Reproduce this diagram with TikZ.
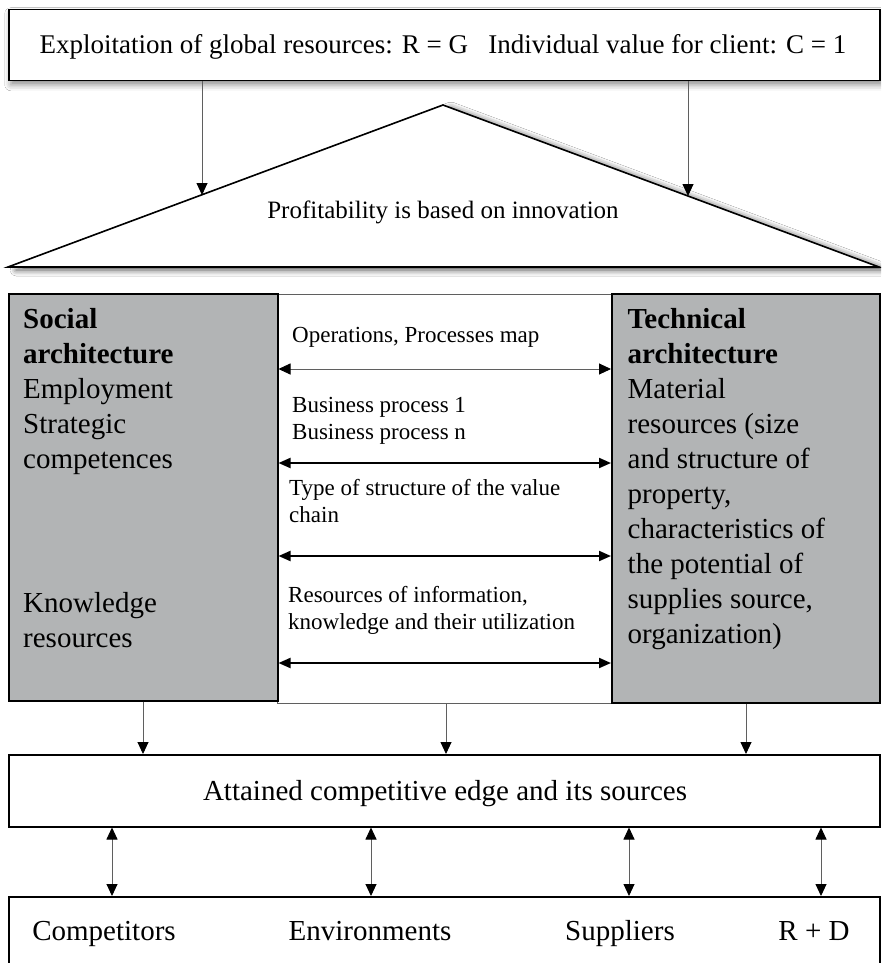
\documentclass[tikz,border=0pt]{standalone}
\usepackage{fontspec}
\setmainfont{Liberation Serif}
\usetikzlibrary{arrows.meta,shadows.blur}
\definecolor{archgray}{RGB}{178,180,181}
\definecolor{linegray}{RGB}{95,95,95}
\begin{document}
\begin{tikzpicture}[x=1pt,y=-1pt,
  box/.style={draw=black, line width=1.5pt, fill=white, inner sep=0pt, anchor=north west},
  graybox/.style={draw=black, line width=1.5pt, fill=archgray, inner sep=0pt, anchor=north west},
  midbox/.style={draw=linegray, line width=1.1pt, fill=white, inner sep=0pt, anchor=north west},
  bigtxt/.style={font=\fontsize{29}{35}\selectfont, align=left, inner sep=0pt},
  midtxt/.style={font=\fontsize{23}{27}\selectfont, align=left, inner sep=0pt},
  thinarrow/.style={draw=linegray, line width=0.9pt, -{Triangle[length=12pt,width=11pt,color=black]}},
  thindbl/.style={draw=linegray, line width=0.9pt, {Triangle[length=12pt,width=11pt,color=black]}-{Triangle[length=12pt,width=11pt,color=black]}},
  thickdbl/.style={draw=black, line width=2pt, {Triangle[length=12pt,width=10pt]}-{Triangle[length=12pt,width=10pt]}},
  softshadow/.style={blur shadow={shadow xshift=2pt, shadow yshift=-4pt, shadow blur radius=6pt, shadow opacity=45}}
]
\clip (0,0) rectangle (881,963);
\fill[white] (0,0) rectangle (881,963);

% top box
\node[box, softshadow, minimum width=871pt, minimum height=71pt] (top) at (8,9) {};
\node[font=\fontsize{27}{32}\selectfont, anchor=base, inner sep=0pt] (toptxt) at (443,54)
  {Exploitation of global resources: R = G \ \ Individual value for client: C = 1};

% roof triangle
\coordinate (lb) at (8,267);
\coordinate (apex) at (443,105);
\coordinate (rb) at (879,267);
\path[draw=black, line width=1.6pt, fill=white, line join=miter,
  blur shadow={shadow xshift=8pt, shadow yshift=-3pt, shadow blur radius=6pt, shadow opacity=70}]
  (lb) -- (apex) -- (rb) -- cycle;
\node[font=\fontsize{25}{30}\selectfont, anchor=base, inner sep=0pt] (roof) at (443,218)
  {Profitability is based on innovation};
\coordinate (hitL) at (202,195);
\coordinate (hitR) at (688,196);
\draw[thinarrow] (top.south -| hitL) -- (hitL);
\draw[thinarrow] (top.south -| hitR) -- (hitR);

% middle section
\node[midbox, minimum width=335pt, minimum height=409pt] (mid) at (277,294) {};
\node[graybox, minimum width=269pt, minimum height=407pt] (soc) at (8,293) {};
\node[graybox, minimum width=268pt, minimum height=409pt] (tech) at (611,293) {};

\node[bigtxt, anchor=north west] (soctxt) at (23,303.5)
  {\strut\textbf{Social}\\\textbf{architecture}\\Employment\\Strategic\\competences};
\node[bigtxt, anchor=north west] (soctxt2) at (23,587.5)
  {\strut Knowledge\\resources};
\node[bigtxt, anchor=north west] (techtxt) at (627.5,303.5)
  {\strut\textbf{Technical}\\\textbf{architecture}\\Material\\resources (size\\and structure of\\property,\\characteristics of\\the potential of\\supplies source,\\organization)};

\node[midtxt, anchor=north west] (m1) at (292,323.1) {\strut Operations, Processes map};
\node[midtxt, anchor=north west] (m2) at (292,393.1) {\strut Business process 1\\Business process n};
\node[midtxt, anchor=north west] (m3) at (289,476.1) {\strut Type of structure of the value\\chain};
\node[midtxt, anchor=north west] (m4) at (288,583.1) {\strut Resources of information,\\knowledge and their utilization};

\draw[thindbl] (soc.east |- 0,369) -- (tech.west |- 0,369);
\draw[thickdbl] (soc.east |- 0,463) -- (tech.west |- 0,463);
\draw[thickdbl] (soc.east |- 0,556) -- (tech.west |- 0,556);
\draw[thickdbl] (soc.east |- 0,663) -- (tech.west |- 0,663);

% attained box
\node[box, minimum width=871pt, minimum height=72pt] (att) at (8,754) {};
\node[font=\fontsize{29}{35}\selectfont, anchor=base, inner sep=0pt] (atttxt) at (445,800)
  {Attained competitive edge and its sources};

\draw[thinarrow] (soc.south -| 143,0) -- (att.north -| 143,0);
\draw[thinarrow] (mid.south -| 446,0) -- (att.north -| 446,0);
\draw[thinarrow] (tech.south -| 746,0) -- (att.north -| 746,0);

% bottom box
\node[box, minimum width=871pt, minimum height=100pt] (bot) at (8,896) {};
\node[font=\fontsize{29}{35}\selectfont, anchor=base, inner sep=0pt] (b1) at (104,940) {Competitors};
\node[font=\fontsize{29}{35}\selectfont, anchor=base, inner sep=0pt] (b2) at (370,940) {Environments};
\node[font=\fontsize{29}{35}\selectfont, anchor=base, inner sep=0pt] (b3) at (620,940) {Suppliers};
\node[font=\fontsize{29}{35}\selectfont, anchor=base, inner sep=0pt] (b4) at (814,940) {R + D};

\draw[thindbl] (att.south -| 112,0) -- (bot.north -| 112,0);
\draw[thindbl] (att.south -| 371,0) -- (bot.north -| 371,0);
\draw[thindbl] (att.south -| 629,0) -- (bot.north -| 629,0);
\draw[thindbl] (att.south -| 821,0) -- (bot.north -| 821,0);
\end{tikzpicture}
\end{document}
